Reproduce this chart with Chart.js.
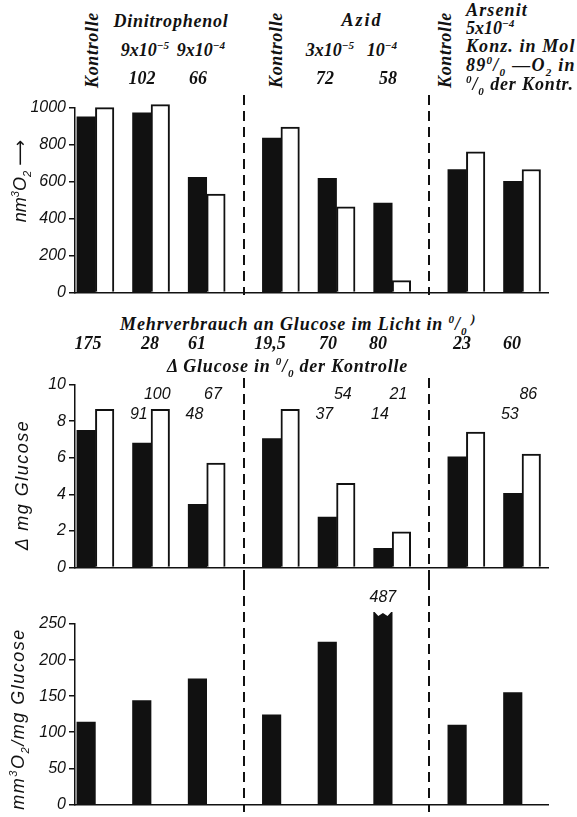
<!DOCTYPE html>
<html>
<head>
<meta charset="utf-8">
<title>O2-Verbrauch und Glucose</title>
<script src="https://cdn.jsdelivr.net/npm/chart.js@4.4.1/dist/chart.umd.min.js"></script>
<style>
  body { margin: 0; background: #fff; }
  #page { position: relative; width: 577px; height: 817px; overflow: hidden; }
  canvas { position: absolute; left: 0; }
  .s { position: absolute; font-family: "Liberation Serif", serif; font-style: italic; font-weight: bold;
       font-size: 18px; color: #111; white-space: nowrap; line-height: 1; }
  .mid { transform: translate(-50%, -50%); }
  .lft { transform: translateY(-50%); }
  .up { transform: translate(-50%, -50%) rotate(-90deg); }
  .ax { position: absolute; font-family: "Liberation Sans", sans-serif; font-style: italic; font-size: 18px;
        color: #111; white-space: nowrap; line-height: 1; transform: translate(-50%, -50%) rotate(-90deg); }
  sup, sub { font-size: 0.62em; line-height: 0; }
</style>
</head>
<body>
<div id="page">
  <canvas id="o2Chart" width="577" height="210" style="top:95px"></canvas>
  <canvas id="glucoseChart" width="577" height="208" style="top:372px"></canvas>
  <canvas id="ratioChart" width="577" height="237" style="top:580px"></canvas>

  <!-- Kopfzeile -->
  <div class="s up" style="left:92px;top:50px" data-w="76">Kontrolle</div>
  <div class="s up" style="left:276px;top:50px" data-w="76">Kontrolle</div>
  <div class="s up" style="left:445px;top:50px" data-w="76">Kontrolle</div>
  <div class="s mid" style="left:171px;top:21px" data-w="115">Dinitrophenol</div>
  <div class="s mid" style="left:362px;top:20px" data-w="41">Azid</div>
  <div class="s mid" style="left:145px;top:50px">9x10<sup>−5</sup></div>
  <div class="s mid" style="left:201px;top:50px">9x10<sup>−4</sup></div>
  <div class="s mid" style="left:330px;top:50px">3x10<sup>−5</sup></div>
  <div class="s mid" style="left:382px;top:50px">10<sup>−4</sup></div>
  <div class="s lft" style="left:466px;top:10px" data-w="62">Arsenit</div>
  <div class="s lft" style="left:466px;top:28px">5x10<sup>−4</sup></div>
  <div class="s lft" style="left:466px;top:46px" data-w="110">Konz. in Mol</div>
  <div class="s lft" style="left:466px;top:65px" data-w="110">89<sup>0</sup>/<sub>0</sub> —O<sub>2</sub> in</div>
  <div class="s lft" style="left:466px;top:84px" data-w="108"><sup>0</sup>/<sub>0</sub> der Kontr.</div>

  <!-- Zwischenzeile -->
  <div class="s lft" style="left:120px;top:324px" data-w="347">Mehrverbrauch an Glucose im Licht in <sup>0</sup>/<sub>0</sub></div>
  <div class="s lft" style="left:471px;top:318px;font-size:13px">)</div>
  <div class="s lft" style="left:167px;top:366px" data-w="241">Δ Glucose in <sup>0</sup>/<sub>0</sub> der Kontrolle</div>

  <!-- Achsentitel -->
  <div class="ax" style="left:20px;top:181px">nm<sup>3</sup>O<sub>2</sub> <span style="font-family:'DejaVu Sans';font-style:normal">⟶</span></div>
  <div class="ax" style="left:22px;top:485px" data-w="130">Δ mg Glucose</div>
  <div class="ax" style="left:18px;top:719px" data-w="182">mm<sup>3</sup>O<sub>2</sub>/mg Glucose</div>
</div>

<script>
// Gruppen: je Kontrolle und Hemmstoff-Konzentration
const groups = ['Kontrolle', 'DNP 9x10-5', 'DNP 9x10-4', 'Kontrolle', 'Azid 3x10-5', 'Azid 10-4', 'Kontrolle', 'Arsenit 5x10-4'];

// mm3 O2 (schwarz = dunkel, weiss = Licht)
const o2Dark = [950, 972, 622, 835, 617, 484, 665, 601];
const o2Light = [1000, 1016, 532, 894, 463, 64, 760, 665];

// Delta mg Glucose
const glucoseDark = [7.5, 6.8, 3.45, 7.05, 2.75, 1.05, 6.05, 4.05];
const glucoseLight = [8.65, 8.65, 5.7, 8.65, 4.6, 1.95, 7.4, 6.2];

// mm3 O2 / mg Glucose
const o2PerGlucose = [114, 144, 174, 124, 225, 487, 110, 155];

// Beschriftungen
const o2Percent = ['', '102', '66', '', '72', '58', '', ''];
const extraGlucose = ['175', '28', '61', '19,5', '70', '80', '23', '60'];
const glucosePctDark = [null, 91, 48, null, 37, 14, null, 53];
const glucosePctLight = [null, 100, 67, null, 54, 21, null, 86];

// Lage der Gruppen auf der x-Achse (in Balkenbreiten)
const groupX = [1, 4, 7, 11, 14, 17, 21, 24];
const splitX = [9, 19];
const headX = [0, 142, 198, 0, 325, 388, 0, 0];
const extraX = [88, 150, 197, 270, 328, 378, 462, 512];

const ink = '#111';
const tickFont = { family: 'Liberation Sans', style: 'italic', size: 16 };

function points(values, shift) {
    return values.map((v, i) => ({ x: groupX[i] + shift, y: v }));
}

// gestrichelte Trennlinien
const dividers = {
    id: 'dividers',
    afterDatasetsDraw(chart, args, opts) {
        const ctx = chart.ctx;
        ctx.save();
        ctx.strokeStyle = ink;
        ctx.lineWidth = 2;
        ctx.setLineDash([10, 6]);
        splitX.forEach(v => {
            const px = Math.round(chart.scales.x.getPixelForValue(v));
            ctx.beginPath();
            ctx.moveTo(px, opts.from);
            ctx.lineTo(px, opts.to);
            ctx.stroke();
        });
        ctx.restore();
    }
};

// Prozentzahlen ueber den Glucose-Balken
const pctLabels = {
    id: 'pctLabels',
    afterDatasetsDraw(chart) {
        const ctx = chart.ctx;
        ctx.save();
        ctx.fillStyle = ink;
        ctx.font = 'italic 16px "Liberation Sans"';
        ctx.textAlign = 'center';
        ctx.textBaseline = 'middle';
        [glucosePctDark, glucosePctLight].forEach((arr, d) => {
            const meta = chart.getDatasetMeta(d);
            arr.forEach((v, i) => {
                if (v === null) return;
                ctx.fillText(String(v), meta.data[i].x - 3, chart.chartArea.top + (d ? 10 : 30));
            });
        });
        ctx.restore();
    }
};

// abgeschnittener Balken mit Zahlenwert
const brokenBar = {
    id: 'brokenBar',
    afterDatasetsDraw(chart) {
        const ctx = chart.ctx;
        const area = chart.chartArea;
        const meta = chart.getDatasetMeta(0);
        o2PerGlucose.forEach((v, i) => {
            if (v <= chart.scales.y.max + 15) return;
            const bar = meta.data[i];
            const top = area.top - 12;
            const l = bar.x - bar.width / 2, r = bar.x + bar.width / 2;
            ctx.save();
            ctx.fillStyle = '#fff';
            ctx.beginPath();
            ctx.moveTo(l, top - 1);
            ctx.lineTo(l + bar.width / 4, top + 4);
            ctx.lineTo(bar.x, top + 1);
            ctx.lineTo(r - bar.width / 4, top + 4);
            ctx.lineTo(r, top - 1);
            ctx.closePath();
            ctx.fill();
            ctx.fillStyle = ink;
            ctx.font = 'italic 16px "Liberation Sans"';
            ctx.textAlign = 'center';
            ctx.textBaseline = 'middle';
            ctx.fillText(String(v), bar.x, area.top - 26);
            ctx.restore();
        });
    }
};

function baseOptions(yMax, step, padTop, padBottom, dash) {
    return {
        responsive: false,
        animation: false,
        layout: { padding: { top: padTop, bottom: padBottom, left: 0, right: 29 } },
        plugins: { legend: { display: false }, tooltip: { enabled: false }, dividers: dash },
        scales: {
            x: {
                type: 'linear', min: -0.1, max: 25.4, offset: false,
                grid: { drawOnChartArea: false, drawTicks: false, offset: false },
                ticks: { display: false },
                border: { color: ink, width: 1.5 },
                afterFit(s) { s.height = 0; }
            },
            y: {
                min: 0, max: yMax,
                ticks: { stepSize: step, color: ink, font: tickFont, padding: 3, callback: v => String(v) },
                grid: { drawOnChartArea: false, tickLength: 6, color: ink, lineWidth: 1.5 },
                border: { color: ink, width: 1.5 },
                afterFit(s) { s.width = 75; }
            }
        }
    };
}

const darkStyle = { backgroundColor: ink, borderWidth: 0, barThickness: 18.5 };
const lightStyle = { backgroundColor: '#fff', borderColor: ink, borderWidth: 2, barThickness: 18.5 };

new Chart(document.getElementById('o2Chart'), {
    type: 'bar',
    data: {
        datasets: [
            Object.assign({ label: 'dunkel', data: points(o2Dark, 0), clip: false }, darkStyle),
            Object.assign({ label: 'Licht', data: points(o2Light, 0), clip: false }, lightStyle)
        ]
    },
    options: baseOptions(1000, 200, 12, 10, { from: 0, to: 200 }),
    plugins: [dividers]
});

new Chart(document.getElementById('glucoseChart'), {
    type: 'bar',
    data: {
        datasets: [
            Object.assign({ label: 'dunkel', data: points(glucoseDark, 0) }, darkStyle),
            Object.assign({ label: 'Licht', data: points(glucoseLight, 0) }, lightStyle)
        ]
    },
    options: baseOptions(10, 2, 11, 12, { from: 6, to: 208 }),
    plugins: [dividers, pctLabels]
});

new Chart(document.getElementById('ratioChart'), {
    type: 'bar',
    data: {
        datasets: [
            Object.assign({ label: 'mm3 O2 / mg Glucose', data: points(o2PerGlucose, -0.5),
                clip: { left: 0, top: 12, right: 0, bottom: 0 } }, darkStyle)
        ]
    },
    options: baseOptions(250, 50, 44, 5, { from: 0, to: 232 }),
    plugins: [dividers, brokenBar]
});

// Zahlen im Kopf und in der Zwischenzeile
const page = document.getElementById('page');
function addLabel(text, x, y) {
    const el = document.createElement('div');
    el.className = 's mid';
    el.style.left = x + 'px';
    el.style.top = y + 'px';
    el.textContent = text;
    page.appendChild(el);
}
o2Percent.forEach((t, i) => { if (t) addLabel(t, headX[i], 78); });
extraGlucose.forEach((t, i) => addLabel(t, extraX[i], 343));

// Textbreiten an die Vorlage anpassen
document.querySelectorAll('[data-w]').forEach(el => {
    const n = el.textContent.length;
    const diff = Number(el.dataset.w) - el.offsetWidth;
    el.style.letterSpacing = (diff / n).toFixed(2) + 'px';
});
</script>
</body>
</html>
